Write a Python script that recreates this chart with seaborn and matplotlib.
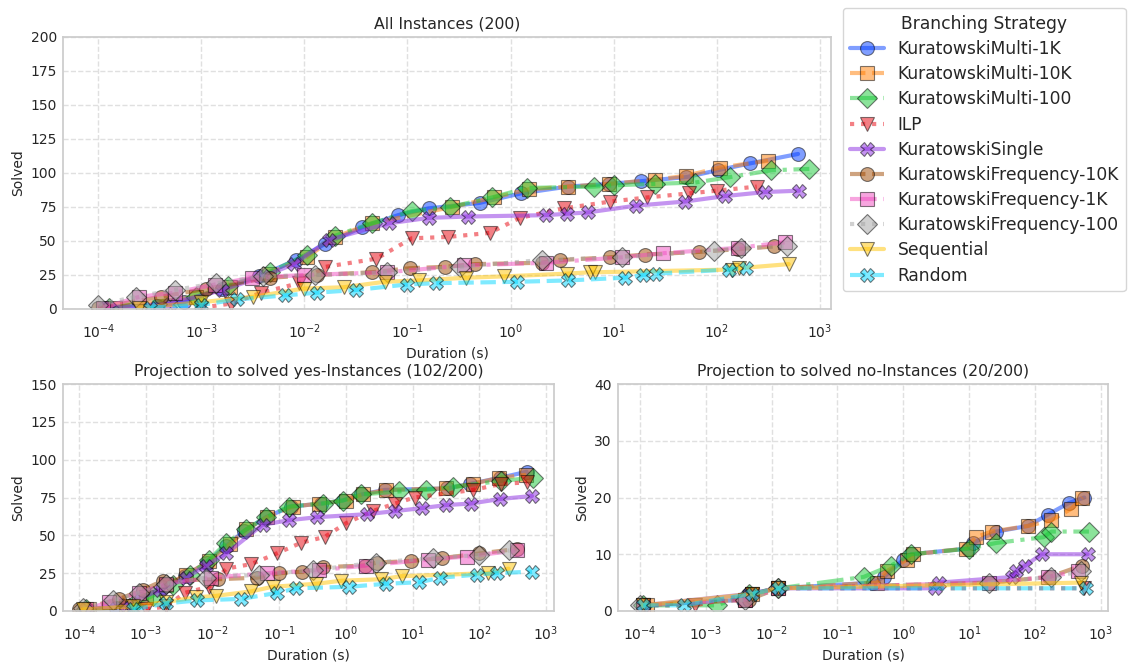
import matplotlib
matplotlib.use("Agg")
import matplotlib.pyplot as plt
from matplotlib.ticker import NullLocator
import numpy as np
import pandas as pd
import seaborn as sns

STRATEGIES = [
    "KuratowskiMulti-1K", "KuratowskiMulti-10K", "KuratowskiMulti-100", "ILP",
    "KuratowskiSingle", "KuratowskiFrequency-10K", "KuratowskiFrequency-1K",
    "KuratowskiFrequency-100", "Sequential", "Random",
]
MARKERS = ["o", "s", "D", "v", "X", "o", "s", "D", "v", "X"]
DASHES = ["", (3.7, 1.6), (6.4, 1.6, 1, 1.6), (1, 1.65),
          "", (3.7, 1.6), (6.4, 1.6, 1, 1.6), (1, 1.65),
          "", (3.7, 1.6)]

# ---------------- All instances (200) ----------------
all_m1k_t = [1.15e-4, 3.7e-4, 6.8e-4, 1.6e-3, 3.6e-3, 8.3e-3, 1.6e-2, 3.6e-2, 8.1e-2, 0.16, 0.50, 1.26, 3.6, 9.1, 18.6, 51, 102, 209, 617]
all_m1k_n = [1, 2, 5, 15, 24, 36, 48, 60, 69, 74, 78, 85, 90, 92, 94, 97, 102, 107, 114]
all_m10k_t = [1.45e-4, 8.9e-4, 1.9e-3, 4.5e-3, 1.05e-2, 2.0e-2, 4.5e-2, 0.27, 0.69, 1.5, 3.6, 9.1, 25, 51, 107, 316]
all_m10k_n = [1, 9, 16, 26, 38, 53, 63, 75, 82, 88, 90, 92, 95, 98, 104, 109]
all_m100_t = [1.26e-4, 8.9e-4, 1.8e-3, 4.6e-3, 1.05e-2, 2.0e-2, 4.5e-2, 0.11, 0.26, 0.66, 1.45, 6.5, 10, 25, 62, 135, 339, 794]
all_m100_n = [1, 9, 17, 27, 40, 54, 63, 72, 75, 82, 89, 90, 91, 92, 93, 97, 102, 103]
all_ilp_t = [1e-3, 1.95e-3, 3.8e-3, 8.9e-3, 1.6e-2, 5.0e-2, 0.11, 0.25, 0.63, 1.23, 3.3, 9.3, 21, 54, 100, 245]
all_ilp_n = [1, 4, 12, 19, 31, 37, 52, 53, 56, 67, 74, 79, 82, 85, 87, 90]
all_single_t = [1.26e-4, 5.0e-4, 1.6e-3, 4.0e-3, 7.9e-3, 1.74e-2, 6.6e-2, 0.16, 0.39, 2.2, 3.5, 5.6, 16.6, 49, 120, 295, 631]
all_single_n = [1, 4, 14, 24, 33, 51, 63, 67, 68, 69, 70, 71, 76, 79, 83, 86, 87]
all_f10k_t = [1e-4, 4.1e-4, 1.12e-3, 4.6e-3, 1.32e-2, 4.5e-2, 0.105, 0.23, 0.45, 2.0, 3.0, 9.3, 20, 68, 162, 363]
all_f10k_n = [1, 9, 15, 23, 25, 27, 30, 31, 33, 34, 36, 38, 40, 42, 44, 46]
all_f1k_t = [1.12e-4, 2.5e-4, 5.5e-4, 1.35e-3, 3.1e-3, 1.0e-2, 6.3e-2, 0.35, 2.2, 12, 30, 162, 457]
all_f1k_n = [1, 9, 12, 18, 23, 25, 27, 32, 34, 38, 41, 45, 49]
all_f100_t = [1e-4, 2.3e-4, 5.5e-4, 1.4e-3, 4.0e-3, 1.26e-2, 6.3e-2, 0.32, 2.0, 12, 95, 174, 479]
all_f100_n = [3, 9, 14, 19, 24, 25, 27, 31, 36, 38, 43, 45, 46]
all_seq_t = [2.5e-4, 1e-3, 3.2e-3, 9.8e-3, 2.4e-2, 6.0e-2, 0.13, 0.37, 0.87, 3.5, 5.9, 6.6, 141, 166, 501]
all_seq_n = [1, 5, 9, 15, 16, 20, 21, 23, 24, 26, 27, 27, 29, 30, 33]
all_rand_t = [3.2e-4, 1e-3, 2.2e-3, 6.5e-3, 1.32e-2, 3.2e-2, 9.8e-2, 0.19, 1.15, 3.6, 12.9, 19.5, 26, 132, 191]
all_rand_n = [1, 3, 7, 10, 12, 14, 18, 19, 20, 21, 23, 25, 26, 29, 30]

# ---------------- Solved yes-instances (102/200) ----------------
yes_m1k_t = [1.26e-4, 3.5e-4, 8.5e-4, 1.8e-3, 3.8e-3, 8.1e-3, 1.6e-2, 3.0e-2, 6.3e-2, 0.15, 0.42, 0.89, 1.7, 3.8, 33, 72, 204, 513]
yes_m1k_n = [1, 2, 8, 16, 23, 32, 43, 53, 62, 69, 71, 73, 77, 80, 81, 84, 88, 92]
yes_m10k_t = [1.4e-4, 5e-4, 1e-3, 2e-3, 4e-3, 8.9e-3, 1.8e-2, 3.2e-2, 6.6e-2, 0.16, 0.4, 1.0, 1.8, 4.0, 32, 79, 200, 501]
yes_m10k_n = [1, 3, 9, 17, 24, 33, 44, 54, 62, 69, 71, 73, 77, 80, 81, 84, 88, 90]
yes_m100_t = [1.26e-4, 6.3e-4, 1.26e-3, 2.5e-3, 4.5e-3, 8.9e-3, 1.6e-2, 3.2e-2, 6.3e-2, 0.14, 0.45, 0.89, 1.7, 6.3, 16, 40, 214, 631]
yes_m100_n = [1, 4, 10, 17, 24, 34, 45, 54, 62, 69, 71, 73, 77, 79, 80, 82, 86, 88]
yes_ilp_t = [1e-3, 2.0e-3, 3.8e-3, 8.9e-3, 1.6e-2, 3.8e-2, 9.1e-2, 0.21, 0.48, 1.0, 2.5, 5.4, 10.7, 81, 214, 513]
yes_ilp_n = [1, 3, 12, 16, 28, 31, 38, 45, 49, 58, 66, 71, 75, 80, 84, 85]
yes_single_t = [1.26e-4, 5e-4, 1.6e-3, 4e-3, 7.9e-3, 1.6e-2, 5.6e-2, 0.14, 0.37, 2.1, 5.4, 13.8, 32, 74, 204, 617]
yes_single_n = [1, 4, 14, 22, 30, 38, 57, 60, 62, 64, 66, 68, 70, 71, 74, 76]
yes_f10k_t = [1e-4, 4e-4, 8.9e-4, 1.8e-3, 1.2e-2, 4.6e-2, 0.1, 0.22, 0.45, 1.9, 2.9, 9.3, 28, 100, 363]
yes_f10k_n = [1, 8, 14, 20, 21, 22, 25, 26, 29, 30, 32, 33, 35, 38, 41]
yes_f1k_t = [1.26e-4, 2.8e-4, 7.9e-4, 2e-3, 9.5e-3, 6.6e-2, 0.4, 2.0, 17, 65, 363]
yes_f1k_n = [1, 6, 12, 18, 22, 25, 27, 30, 34, 36, 40]
yes_f100_t = [1.12e-4, 3.2e-4, 7.9e-4, 2e-3, 7.9e-3, 5e-2, 0.32, 2.8, 20, 100, 282]
yes_f100_n = [2, 7, 12, 18, 22, 24, 27, 32, 35, 37, 40]
yes_seq_t = [1.12e-4, 6.3e-4, 2e-3, 5.6e-3, 1.12e-2, 3.8e-2, 7.9e-2, 0.36, 0.85, 3.4, 6.8, 135, 275]
yes_seq_n = [1, 3, 6, 9, 10, 13, 16, 18, 20, 21, 23, 25, 28]
yes_rand_t = [6.3e-4, 2e-3, 5.9e-3, 2.7e-2, 9.3e-2, 0.18, 1.12, 4, 12.6, 26, 91, 182, 617]
yes_rand_n = [1, 5, 7, 8, 12, 15, 16, 18, 19, 22, 24, 25, 26]

# ---------------- Solved no-instances (20/200) ----------------
no_m1k_t = [1.12e-4, 3.7e-3, 4.6e-3, 1.26e-2, 0.35, 0.51, 1.0, 1.32, 9.5, 11.5, 26, 79, 158, 324, 562]
no_m1k_n = [1, 2, 3, 4, 5, 6, 9, 10, 11, 12, 14, 15, 17, 19, 20]
no_m10k_t = [1.26e-4, 4e-3, 5e-3, 1.26e-2, 0.4, 0.56, 1.12, 1.4, 8.9, 12.6, 22, 79, 178, 355, 525]
no_m10k_n = [1, 2, 3, 4, 5, 7, 9, 10, 11, 13, 14, 15, 16, 18, 20]
no_m100_t = [1.12e-4, 1.48e-3, 4.5e-3, 1.26e-2, 0.25, 0.65, 1.32, 10, 26, 135, 178, 661]
no_m100_n = [1, 1, 3, 4, 6, 8, 10, 11, 12, 13, 14, 14]
no_ilp_t = [1.12e-4, 6.9e-4, 5e-3, 1.26e-2, 562]
no_ilp_n = [1, 1, 3, 4, 4]
no_single_t = [1.12e-4, 4.5e-3, 1.26e-2, 3.0, 3.5, 45, 52, 71, 126, 631]
no_single_n = [1, 3, 4, 4, 5, 6, 7, 8, 10, 10]
no_f10k_t = [1.12e-4, 4.5e-3, 1.26e-2, 20, 166, 513]
no_f10k_n = [1, 2, 4, 5, 6, 8]
no_f1k_t = [1.12e-4, 4e-3, 1.26e-2, 20, 158, 457]
no_f1k_n = [1, 2, 4, 5, 6, 7]
no_f100_t = [1e-4, 4e-3, 1.26e-2, 20, 178, 501]
no_f100_n = [1, 2, 4, 5, 6, 7]
no_seq_t = [1.12e-4, 5e-3, 1.26e-2, 501]
no_seq_n = [1, 3, 4, 5]
no_rand_t = [1.12e-4, 4.6e-4, 5e-3, 1.26e-2, 603]
no_rand_n = [1, 1, 3, 4, 4]

ALL_SERIES = [(all_m1k_t, all_m1k_n), (all_m10k_t, all_m10k_n), (all_m100_t, all_m100_n),
              (all_ilp_t, all_ilp_n), (all_single_t, all_single_n), (all_f10k_t, all_f10k_n),
              (all_f1k_t, all_f1k_n), (all_f100_t, all_f100_n), (all_seq_t, all_seq_n),
              (all_rand_t, all_rand_n)]
YES_SERIES = [(yes_m1k_t, yes_m1k_n), (yes_m10k_t, yes_m10k_n), (yes_m100_t, yes_m100_n),
              (yes_ilp_t, yes_ilp_n), (yes_single_t, yes_single_n), (yes_f10k_t, yes_f10k_n),
              (yes_f1k_t, yes_f1k_n), (yes_f100_t, yes_f100_n), (yes_seq_t, yes_seq_n),
              (yes_rand_t, yes_rand_n)]
NO_SERIES = [(no_m1k_t, no_m1k_n), (no_m10k_t, no_m10k_n), (no_m100_t, no_m100_n),
             (no_ilp_t, no_ilp_n), (no_single_t, no_single_n), (no_f10k_t, no_f10k_n),
             (no_f1k_t, no_f1k_n), (no_f100_t, no_f100_n), (no_seq_t, no_seq_n),
             (no_rand_t, no_rand_n)]


def to_frame(series):
    rows = []
    for name, (durations, solved) in zip(STRATEGIES, series):
        for d, s in zip(durations, solved):
            rows.append((name, d, s))
    return pd.DataFrame(rows, columns=["Branching Strategy", "Duration (s)", "Solved"])


sns.set_theme(style="whitegrid", rc={
    "grid.linestyle": "--",
    "grid.color": "0.88",
    "axes.edgecolor": "0.8",
    "font.size": 10,
    "axes.titlesize": 11.3,
    "axes.labelsize": 10,
    "xtick.labelsize": 10,
    "ytick.labelsize": 10,
    "ytick.major.size": 0,
    "ytick.major.pad": 4.4,
})
plt.rcParams["font.family"] = ["DejaVu Sans"]

fig = plt.figure(figsize=(11.29, 6.64), dpi=100)
W, H = 1129, 664


def axes_at(x0, y0, x1, y1):
    return fig.add_axes([x0 / W, 1 - y1 / H, (x1 - x0) / W, (y1 - y0) / H])


ax_all = axes_at(63, 37, 831, 309)
ax_yes = axes_at(63, 384, 554, 611)
ax_no = axes_at(618, 384, 1108, 611)


def draw(ax, series, title, ymax, ystep, xlim, legend):
    ax.set_xscale("log")
    sns.lineplot(
        data=to_frame(series), x="Duration (s)", y="Solved",
        hue="Branching Strategy", style="Branching Strategy",
        hue_order=STRATEGIES, style_order=STRATEGIES,
        palette="bright", markers=MARKERS, dashes=DASHES,
        estimator=None, linewidth=3, markersize=10,
        markeredgecolor="black", markeredgewidth=0.8, alpha=0.5,
        legend=legend, ax=ax,
    )
    ax.set_title(title)
    ax.set_xlim(*xlim)
    ax.set_ylim(0, ymax)
    ax.set_yticks(np.arange(0, ymax + 1, ystep))
    ax.set_xticks(10.0 ** np.arange(-4, 4))
    ax.xaxis.set_minor_locator(NullLocator())


draw(ax_all, ALL_SERIES, "All Instances (200)", 200, 25, (10 ** -4.343, 10 ** 3.11), True)
draw(ax_yes, YES_SERIES, "Projection to solved yes-Instances (102/200)", 150, 25,
     (10 ** -4.245, 10 ** 3.12), False)
draw(ax_no, NO_SERIES, "Projection to solved no-Instances (20/200)", 40, 10,
     (10 ** -4.334, 10 ** 3.11), False)

sns.move_legend(
    ax_all, "upper left", bbox_to_anchor=(843 / W, 1 - 8 / H),
    bbox_transform=fig.transFigure, borderaxespad=0, fontsize=12.3,
    title_fontsize=12.3, frameon=True, handlelength=2.0, labelspacing=0.42,
)

fig.savefig("out.png", dpi=100)
